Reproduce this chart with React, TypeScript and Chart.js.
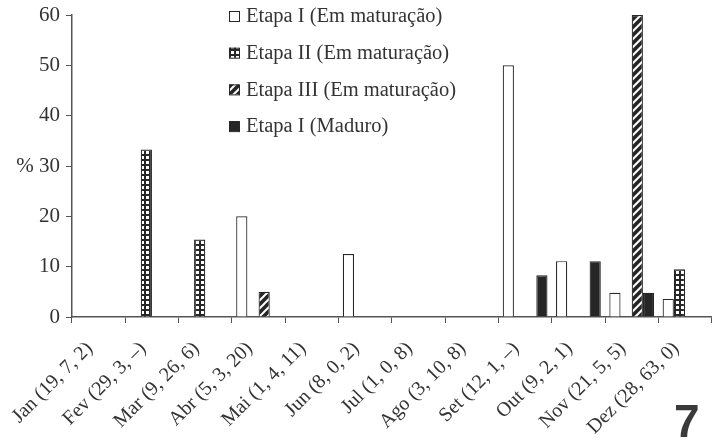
import React, { useEffect, useRef } from 'react';
import { Chart, registerables } from 'chart.js';

Chart.register(...registerables);

const categories = [
  'Jan (19, 7, 2)',
  'Fev (29, 3, –)',
  'Mar (9, 26, 6)',
  'Abr (5, 3, 20)',
  'Mai (1, 4, 11)',
  'Jun (8, 0, 2)',
  'Jul (1, 0, 8)',
  'Ago (3, 10, 8)',
  'Set (12, 1, –)',
  'Out (9, 2, 1)',
  'Nov (21, 5, 5)',
  'Dez (28, 63, 0)',
];

const seriesLabels = [
  'Etapa I (Em maturação)',
  'Etapa II (Em maturação)',
  'Etapa III (Em maturação)',
  'Etapa I (Maduro)',
];

const etapaIEm = [0, 0, 0, 20, 0, 12.5, 0, 0, 50, 11.1, 4.8, 3.6];
const etapaIIEm = [0, 33.3, 15.4, 0, 0, 0, 0, 0, 0, 0, 0, 9.5];
const etapaIIIEm = [0, 0, 0, 5, 0, 0, 0, 0, 0, 0, 60, 0];
const etapaIMaduro = [0, 0, 0, 0, 0, 0, 0, 0, 8.3, 11.1, 4.8, 0];

const yMin = 0;
const yMax = 60;
const yStep = 10;
const yTitle = '%';
const figureNumber = '7';

const INK = '#262626';
const TEXT = '#333333';
const FONT_FAMILY = '"Liberation Serif", "Times New Roman", serif';

function makeDots(): CanvasPattern | string {
  const c = document.createElement('canvas');
  c.width = 5;
  c.height = 5;
  const g = c.getContext('2d');
  if (!g) return INK;
  g.fillStyle = INK;
  g.fillRect(0, 0, 5, 5);
  g.fillStyle = '#ffffff';
  g.fillRect(1, 1, 3, 3);
  return g.createPattern(c, 'repeat') || INK;
}

function makeStripes(): CanvasPattern | string {
  const s = 8;
  const c = document.createElement('canvas');
  c.width = s;
  c.height = s;
  const g = c.getContext('2d');
  if (!g) return INK;
  g.fillStyle = INK;
  g.fillRect(0, 0, s, s);
  g.strokeStyle = '#ffffff';
  g.lineWidth = 2;
  g.beginPath();
  g.moveTo(-1, s + 1);
  g.lineTo(s + 1, -1);
  g.moveTo(-2, 2);
  g.lineTo(2, -2);
  g.moveTo(s - 2, s + 2);
  g.lineTo(s + 2, s - 2);
  g.stroke();
  return g.createPattern(c, 'repeat') || INK;
}

const legendPlugin = {
  id: 'boxLegend',
  afterDraw(chart: any) {
    const ctx = chart.ctx as CanvasRenderingContext2D;
    const x = 229;
    const y0 = 16;
    const step = 36.7;
    ctx.save();
    ctx.font = `20.5px ${FONT_FAMILY}`;
    ctx.textBaseline = 'middle';
    ctx.textAlign = 'left';
    chart.data.datasets.forEach((ds: any, i: number) => {
      const y = y0 + i * step;
      ctx.fillStyle = ds.backgroundColor;
      ctx.fillRect(x, y - 5, 10, 10);
      ctx.strokeStyle = INK;
      ctx.lineWidth = 1;
      ctx.strokeRect(x + 0.5, y - 4.5, 10, 10);
      ctx.fillStyle = TEXT;
      ctx.fillText(ds.label, x + 17, y + 1);
    });
    ctx.restore();
  },
};

export default function App() {
  const ref = useRef<HTMLCanvasElement | null>(null);

  useEffect(() => {
    const canvas = ref.current;
    if (!canvas) return;
    const fills = ['#ffffff', makeDots(), makeStripes(), INK];
    const values = [etapaIEm, etapaIIEm, etapaIIIEm, etapaIMaduro];
    const chart = new Chart(canvas, {
      type: 'bar',
      data: {
        labels: categories,
        datasets: seriesLabels.map((label, i) => ({
          label,
          data: values[i],
          backgroundColor: fills[i] as any,
          borderColor: INK,
          borderWidth: 1.2,
          categoryPercentage: 0.84,
          barPercentage: 1.0,
        })),
      },
      options: {
        responsive: false,
        animation: false,
        layout: { padding: { top: 15, left: 0, right: 0, bottom: 0 } },
        plugins: {
          legend: { display: false },
          tooltip: { enabled: false },
        },
        scales: {
          x: {
            grid: {
              display: true,
              drawOnChartArea: false,
              drawTicks: true,
              tickLength: 6,
              color: '#555555',
              offset: true,
            },
            border: { display: true, color: '#555555', width: 1.5 },
            ticks: {
              autoSkip: false,
              maxRotation: 45,
              minRotation: 45,
              color: TEXT,
              padding: 14,
              labelOffset: -9,
              font: { family: FONT_FAMILY, size: 20 },
            },
            afterFit: (s: any) => {
              s.height = 131;
            },
          },
          y: {
            min: yMin,
            max: yMax,
            grid: {
              display: true,
              drawOnChartArea: false,
              drawTicks: true,
              tickLength: 6,
              color: '#555555',
            },
            border: { display: true, color: '#555555', width: 1.5 },
            ticks: {
              stepSize: yStep,
              color: TEXT,
              padding: 6,
              font: { family: FONT_FAMILY, size: 21 },
              callback: (v: any) => (Number(v) === 30 ? `${yTitle} ${v}` : `${v}`),
            },
            afterFit: (s: any) => {
              s.width = 72;
              s.paddingTop = 0;
              s.paddingBottom = 0;
            },
          },
        },
      },
      plugins: [legendPlugin],
    });
    return () => chart.destroy();
  }, []);

  return (
    <div style={{ position: 'fixed', left: 0, top: 0, width: 716, height: 448, background: '#ffffff' }}>
      <canvas ref={ref} width={716} height={448} style={{ display: 'block' }} />
      <div
        style={{
          position: 'absolute',
          left: 674,
          top: 395,
          fontFamily: '"Liberation Sans", Arial, sans-serif',
          fontWeight: 'bold',
          fontSize: 46,
          lineHeight: '52px',
          color: '#3a3a3a',
        }}
      >
        {figureNumber}
      </div>
    </div>
  );
}
